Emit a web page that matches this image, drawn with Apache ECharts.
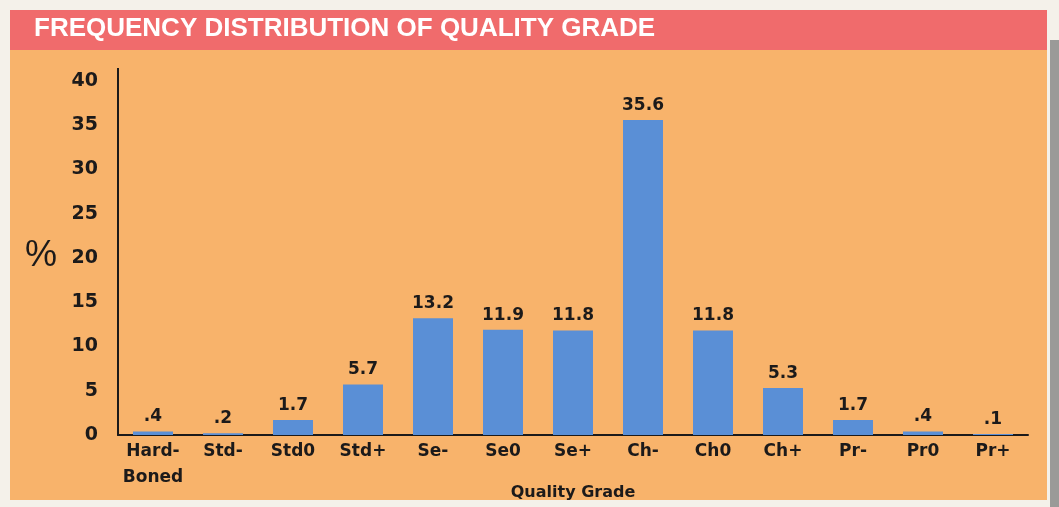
<!DOCTYPE html>
<html>
<head>
<meta charset="utf-8">
<script src="https://cdn.jsdelivr.net/npm/echarts@6/dist/echarts.min.js"></script>
<style>
  html, body { margin: 0; padding: 0; background: #f4f1ea; }
  #chart { width: 1059px; height: 507px; }
</style>
</head>
<body>
<div id="chart"></div>
<script>
// quality grades and their share (%)
const grades = ['Hard-\nBoned', 'Std-', 'Std0', 'Std+', 'Se-', 'Se0', 'Se+', 'Ch-', 'Ch0', 'Ch+', 'Pr-', 'Pr0', 'Pr+'];
const percents = [0.4, 0.2, 1.7, 5.7, 13.2, 11.9, 11.8, 35.6, 11.8, 5.3, 1.7, 0.4, 0.1];
const valueLabels = ['.4', '.2', '1.7', '5.7', '13.2', '11.9', '11.8', '35.6', '11.8', '5.3', '1.7', '.4', '.1'];

const wideFont = "'DejaVu Sans', Arial, sans-serif";
const titleFont = "'Liberation Sans', Arial, sans-serif";
const ink = '#1c1a1a';

let chart = echarts.init(document.getElementById('chart'));

let option = {
  animation: false,
  backgroundColor: '#f4f1ea',
  graphic: [
    {
      type: 'rect',
      z: -10,
      shape: { x: 10, y: 10, width: 1037, height: 490 },
      style: { fill: '#f8b36b' }
    },
    {
      type: 'rect',
      z: -9,
      shape: { x: 10, y: 10, width: 1037, height: 40 },
      style: { fill: '#f06b6c' }
    },
    {
      type: 'rect',
      z: -9,
      shape: { x: 1050, y: 40, width: 9, height: 467 },
      style: { fill: '#9a9a98' }
    },
    {
      type: 'text',
      left: 34,
      top: 16,
      style: {
        text: 'FREQUENCY DISTRIBUTION OF QUALITY GRADE',
        fill: '#ffffff',
        font: "bold 26px " + titleFont
      }
    },
    {
      type: 'text',
      left: 25,
      top: 238,
      style: {
        text: '%',
        fill: ink,
        font: "36px " + titleFont
      }
    },
    {
      type: 'line',
      shape: { x1: 118, y1: 68, x2: 118, y2: 81 },
      style: { stroke: ink, lineWidth: 2 }
    }
  ],
  grid: {
    left: 118,
    right: 31,
    top: 81,
    bottom: 72,
    outerBoundsMode: 'none',
    containLabel: false
  },
  xAxis: {
    type: 'category',
    data: grades,
    axisLine: { lineStyle: { color: ink, width: 2 } },
    axisTick: { show: false },
    axisLabel: {
      color: ink,
      fontWeight: 'bold',
      fontSize: 17,
      fontFamily: wideFont,
      margin: 4,
      lineHeight: 26,
      interval: 0
    },
    name: 'Quality Grade',
    nameLocation: 'middle',
    nameGap: 50,
    nameMoveOverlap: false,
    nameTextStyle: {
      color: ink,
      fontWeight: 'bold',
      fontSize: 16,
      fontFamily: wideFont
    }
  },
  yAxis: {
    type: 'value',
    min: 0,
    max: 40,
    interval: 5,
    axisLine: { show: true, lineStyle: { color: ink, width: 2 } },
    axisTick: { show: false },
    splitLine: { show: false },
    axisLabel: {
      color: ink,
      fontWeight: 'bold',
      fontSize: 19,
      fontFamily: wideFont,
      margin: 20
    }
  },
  series: [
    {
      type: 'bar',
      data: percents,
      barWidth: 40,
      itemStyle: { color: '#5a8fd6' },
      label: {
        show: true,
        position: 'top',
        distance: 6,
        color: ink,
        fontWeight: 'bold',
        fontSize: 17,
        fontFamily: wideFont,
        formatter: function (p) {
          return valueLabels[p.dataIndex];
        }
      }
    }
  ]
};

chart.setOption(option);
</script>
</body>
</html>
